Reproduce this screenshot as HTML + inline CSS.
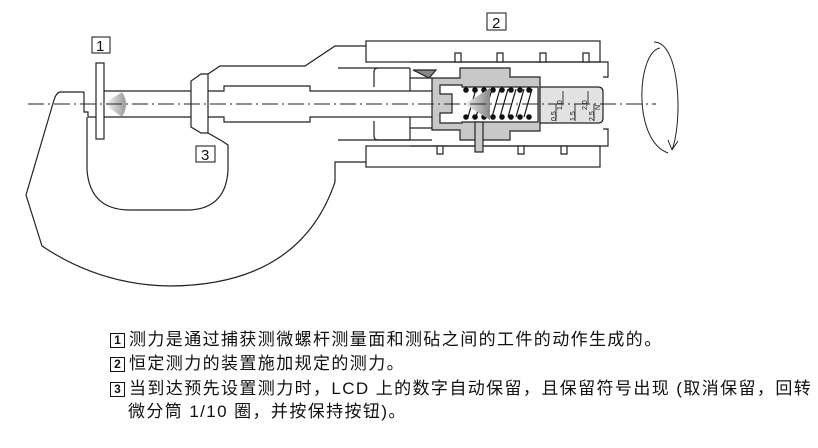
<!DOCTYPE html>
<html><head><meta charset="utf-8"><style>
body{margin:0;background:#fff;width:818px;height:448px;overflow:hidden;position:relative;font-family:"Liberation Sans","Noto Sans CJK SC",sans-serif;}
.t{position:absolute;left:110px;font-size:17px;letter-spacing:1.4px;color:#111;white-space:nowrap;line-height:18px}
.b{display:inline-block;width:13px;height:13px;border:1px solid #111;font-size:12px;line-height:13px;text-align:center;margin-right:4px;vertical-align:1px;font-weight:bold;letter-spacing:0}
</style></head><body>
<svg width="818" height="448" style="position:absolute;left:0;top:0" xmlns="http://www.w3.org/2000/svg">
<defs>
<linearGradient id="g1" x1="0" x2="1"><stop offset="0" stop-color="#fff"/><stop offset="1" stop-color="#999"/></linearGradient>
<linearGradient id="g2" x1="0" x2="1"><stop offset="0" stop-color="#eee"/><stop offset="1" stop-color="#888"/></linearGradient>
</defs>
<g fill="none" stroke="#222" stroke-width="1.2">
<path d="M84,92 L60,92 Q56,93 54,100 L26,195 L42,246 Q100,285 170,286 Q300,285 335,182 L335,162 L366,162"/>
<path d="M87,117 L87,170 Q90,210 130,210 L190,210 Q226,208 228,170 L228,145 L222,141 L208,133"/>
<path d="M208,74 L201,74 L191,81 L191,127 L201,133 L208,133 L208,74"/>
<path d="M208,74 L220,66 L305,66 L335,46 L366,46"/>
<path d="M104,91 L191,91 M208,91 L224,91 L224,86 L310,86 L310,91 L374,91"/>
<path d="M88,117 L191,117 M208,117 L224,117 L224,122 L310,122 L310,117 L374,117"/>
<path d="M84,92 L84,112 L88,112 L88,117"/>
<rect x="96" y="63" width="8" height="76" fill="#fff"/>
<rect x="366" y="41" width="234" height="21"/>
<rect x="366" y="146" width="234" height="21"/>
<path d="M338,68 L410,68 M338,140 L410,140"/>
<path d="M410,62 L608,62 L608,77 L603,77 M410,146 L608,146 L608,129 L603,129"/>
<path d="M378,68 Q374,68 374,72 L374,87 M374,121 L374,136 Q374,140 378,140 L432,140"/>
<path d="M410,68 L410,91 M410,117 L410,140"/>
<path d="M410,78 L432,78 M410,128 L432,128 M374,91 L432,91 M374,117 L432,117"/>
<path d="M455,53h6v9h-6z M497,53h6v9h-6z M540,53h6v9h-6z M583,53h6v9h-6z" fill="#fff"/>
<path d="M437,146h6v8h-6z M518,146h6v8h-6z M561,146h6v8h-6z" fill="#fff"/>
<path d="M460,68 L510,68 L510,77 L540,77 L540,131 L510,131 L510,140 L460,140 L460,130 L432,130 L432,78 L460,78 Z" fill="#c8c8c8"/>
<path d="M440,85 L462,85 L462,87 L538,87 L538,122 L462,122 L462,123 L440,123 L440,113 L452,113 L452,94 L440,94 Z" fill="#fff"/>
<path d="M540,87 L598,87 Q603,87 603,92 L603,118 Q603,123 598,123 L540,123 Z" fill="#e2e2e2"/>
<rect x="475" y="122" width="8" height="30" fill="#c8c8c8"/>
<path d="M413,70 L436,70 L429,78 Z" fill="#888"/>
</g>
<g stroke="#111" stroke-width="1.2" fill="#111">
<path d="M468,117 L476,89 M476,117 L484,89 M484,117 L492,89 M492,117 L500,89 M500,117 L508,89 M508,117 L516,89 M516,117 L524,89 M524,117 L532,89" fill="none"/>
<circle cx="466" cy="90" r="2.2"/><circle cx="475" cy="90" r="2.2"/><circle cx="484" cy="90" r="2.2"/><circle cx="493" cy="90" r="2.2"/><circle cx="502" cy="90" r="2.2"/><circle cx="511" cy="90" r="2.2"/><circle cx="520" cy="90" r="2.2"/><circle cx="529" cy="90" r="2.2"/>
<circle cx="466" cy="117" r="2.2"/><circle cx="475" cy="117" r="2.2"/><circle cx="484" cy="117" r="2.2"/><circle cx="493" cy="117" r="2.2"/><circle cx="502" cy="117" r="2.2"/><circle cx="511" cy="117" r="2.2"/><circle cx="520" cy="117" r="2.2"/><circle cx="529" cy="117" r="2.2"/>
</g>
<path d="M465,104 L490,88 L490,120 Z" fill="url(#g2)"/>
<path d="M104,104 L122,92 Q130,104 122,117 Z" fill="url(#g1)"/>
<g font-size="7" fill="#111" font-family="Liberation Sans,sans-serif">
<text transform="translate(562,110) rotate(-90)">1,0</text>
<text transform="translate(587,110) rotate(-90)">2,0</text>
<text transform="translate(556,121) rotate(-90)">0,5</text>
<text transform="translate(575,121) rotate(-90)">1,5</text>
<text transform="translate(594,121) rotate(-90)">2,5</text>
<text transform="translate(600,110) rotate(-90)">N</text>
<path d="M563,91 V104 M588,91 V104 M556,104 V121 M575,104 V121 M594,104 V121" stroke="#111" stroke-width="0.8"/>
</g>
<path d="M28,104 L656,104" stroke="#222" stroke-width="1" stroke-dasharray="16,4,2,4"/>
<path d="M660,48 C637,52 632,140 668,153" fill="none" stroke="#222" stroke-width="1"/>
<path d="M654,42 C680,42 683,120 672,150" fill="none" stroke="#222" stroke-width="1"/>
<path d="M672,150 L668,140 M672,150 L678,141" stroke="#222" stroke-width="1"/>
<g font-family="Liberation Sans,sans-serif" font-size="15" fill="#111">
<rect x="92" y="37" width="18" height="16" fill="none" stroke="#111"/><text x="96" y="51">1</text>
<rect x="487" y="13" width="19" height="17" fill="none" stroke="#111"/><text x="492" y="28">2</text>
<rect x="196" y="146" width="19" height="16" fill="none" stroke="#111"/><text x="201" y="160">3</text>
</g>
</svg>
<div class="t" style="top:331px"><span class="b">1</span>测力是通过捕获测微螺杆测量面和测砧之间的工件的动作生成的。</div>
<div class="t" style="top:355px"><span class="b">2</span>恒定测力的装置施加规定的测力。</div>
<div class="t" style="top:380px"><span class="b">3</span>当到达预先设置测力时，LCD 上的数字自动保留，且保留符号出现 (取消保留，回转</div>
<div class="t" style="top:403px;left:128px">微分筒 1/10 圈，并按保持按钮)。</div>
</body></html>
